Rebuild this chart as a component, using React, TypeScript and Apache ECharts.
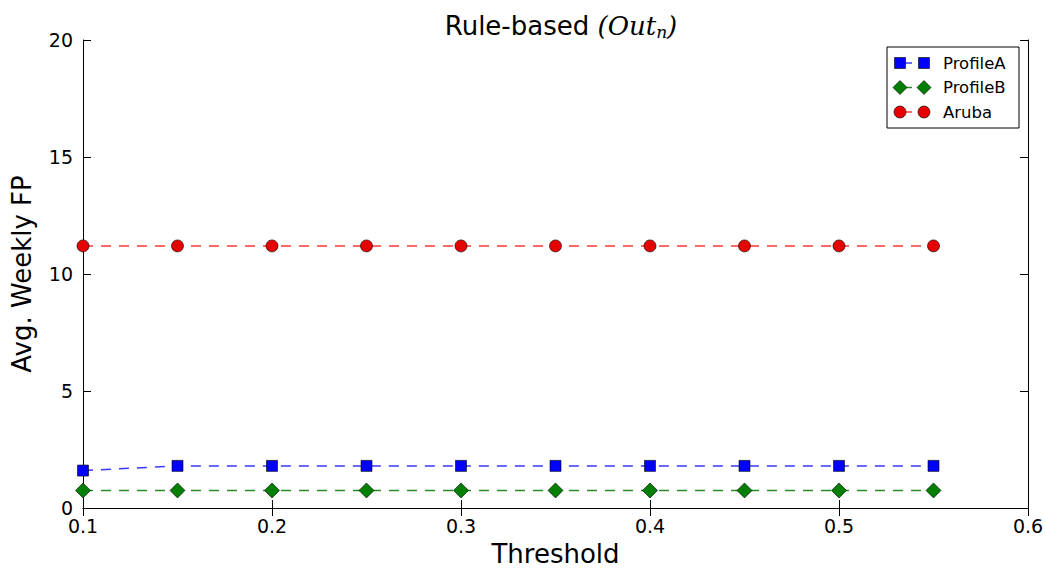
import React, { useEffect, useRef } from "react";
import * as echarts from "echarts";

const thresholds = [0.1, 0.15, 0.2, 0.25, 0.3, 0.35, 0.4, 0.45, 0.5, 0.55];
const profileA = [1.6, 1.8, 1.8, 1.8, 1.8, 1.8, 1.8, 1.8, 1.8, 1.8];
const profileB = [0.75, 0.75, 0.75, 0.75, 0.75, 0.75, 0.75, 0.75, 0.75, 0.75];
const aruba = [11.2, 11.2, 11.2, 11.2, 11.2, 11.2, 11.2, 11.2, 11.2, 11.2];
const seriesNames = ["ProfileA", "ProfileB", "Aruba"];
const xTicks = { min: 0.1, max: 0.6, interval: 0.1 };
const yTicks = { min: 0, max: 20, interval: 5 };

const FONT = "DejaVu Sans";

export default function App() {
  const ref = useRef<HTMLDivElement>(null);
  useEffect(() => {
    if (!ref.current) return;
    const chart = echarts.init(ref.current, undefined, { renderer: "svg" });
    const pair = (xs: number[], ys: number[]) => xs.map((x, i) => [x, ys[i]]);
    const axisCommon = {
      axisLine: { show: true, lineStyle: { color: "#000", width: 1 } },
      axisTick: { show: true, inside: true, length: 8, lineStyle: { color: "#000" } },
      splitLine: { show: false },
    };
    const lineSeries = (name: string, data: number[], color: string, lineColor: string, symbol: string, size: number) => ({
      name,
      type: "line",
      data: pair(thresholds, data),
      symbol,
      symbolSize: size,
      showSymbol: true,
      lineStyle: { color: lineColor, width: 1.5, type: [10, 8] },
      itemStyle: { color, borderColor: "#000", borderWidth: 0.6 },
      z: 3,
    });
    const legX = 887;
    const legY = 47;
    const legendEntries = [
      { name: seriesNames[0], color: "#0000ff", line: "#3a3aff", symbol: "rect", w: 11, h: 11 },
      { name: seriesNames[1], color: "#007f00", line: "#2a8a2a", symbol: "diamond", w: 14, h: 14 },
      { name: seriesNames[2], color: "#e60000", line: "#ff3a3a", symbol: "circle", w: 12, h: 12 },
    ];
    const graphics: any[] = [
      {
        type: "rect",
        shape: { x: legX, y: legY, width: 132, height: 81 },
        style: { fill: "#fff", stroke: "#000", lineWidth: 1 },
        z: 10,
      },
    ];
    legendEntries.forEach((e, i) => {
      const cy = 63 + i * 24.5;
      const makeMarker = (cx: number) => {
        if (e.symbol === "rect")
          return { type: "rect", shape: { x: cx - e.w / 2, y: cy - e.h / 2, width: e.w, height: e.h }, style: { fill: e.color, stroke: "#000", lineWidth: 0.6 }, z: 12 };
        if (e.symbol === "circle")
          return { type: "circle", shape: { cx, cy, r: e.w / 2 }, style: { fill: e.color, stroke: "#000", lineWidth: 0.6 }, z: 12 };
        return {
          type: "polygon",
          shape: { points: [[cx, cy - e.h / 2], [cx + e.w / 2, cy], [cx, cy + e.h / 2], [cx - e.w / 2, cy]] },
          style: { fill: e.color, stroke: "#000", lineWidth: 0.6 },
          z: 12,
        };
      };
      graphics.push({ type: "line", shape: { x1: 900, y1: cy, x2: 912, y2: cy }, style: { stroke: e.line, lineWidth: 1.5 }, z: 11 });
      graphics.push(makeMarker(900));
      graphics.push(makeMarker(924));
      graphics.push({ type: "text", x: 943, y: cy, style: { text: e.name, fill: "#000", font: `16.5px "${FONT}"`, verticalAlign: "middle", textAlign: "left" }, z: 12 });
    });
    chart.setOption({
      animation: false,
      backgroundColor: "#fff",
      title: {
        text: "{a|Rule-based }{b|(Out}{c|n}{b|)}",
        left: 556,
        textAlign: "center",
        top: 6,
        textStyle: {
          fontWeight: "normal",
          rich: {
            a: { fontFamily: FONT, fontSize: 26, fontWeight: "normal", color: "#000" },
            b: { fontFamily: "DejaVu Serif", fontStyle: "italic", fontWeight: "normal", fontSize: 26, color: "#000" },
            c: { fontFamily: "DejaVu Serif", fontStyle: "italic", fontWeight: "normal", fontSize: 17, color: "#000", padding: [12, 0, 0, 0] },
          },
        },
      },
      grid: { left: 83, right: 17, top: 40, bottom: 62, containLabel: false, outerBoundsMode: "none" },
      xAxis: [
        {
          type: "value",
          ...xTicks,
          name: "Threshold",
          nameLocation: "middle",
          nameGap: 33,
          nameTextStyle: { fontFamily: FONT, fontSize: 26, color: "#000" },
          axisLabel: { fontFamily: FONT, fontSize: 19, color: "#000", margin: 8, formatter: (v: number) => v.toFixed(1) },
          ...axisCommon,
        },
        {
          type: "value",
          ...xTicks,
          position: "top",
          axisLabel: { show: false },
          ...axisCommon,
        },
      ],
      yAxis: [
        {
          type: "value",
          ...yTicks,
          name: "Avg. Weekly FP",
          nameLocation: "middle",
          nameGap: 48,
          nameTextStyle: { fontFamily: FONT, fontSize: 26, color: "#000" },
          axisLabel: { fontFamily: FONT, fontSize: 19, color: "#000", margin: 10 },
          ...axisCommon,
        },
        {
          type: "value",
          ...yTicks,
          position: "right",
          axisLabel: { show: false },
          ...axisCommon,
        },
      ],
      series: [
        lineSeries(seriesNames[0], profileA, "#0000ff", "#3a3aff", "rect", 11),
        lineSeries(seriesNames[1], profileB, "#007f00", "#2a8a2a", "diamond", 15),
        lineSeries(seriesNames[2], aruba, "#e60000", "#ff3a3a", "circle", 12),
      ],
      graphic: graphics,
    });
    return () => chart.dispose();
  }, []);
  return <div ref={ref} style={{ position: "fixed", left: 0, top: 0, width: 1045, height: 570 }} />;
}
